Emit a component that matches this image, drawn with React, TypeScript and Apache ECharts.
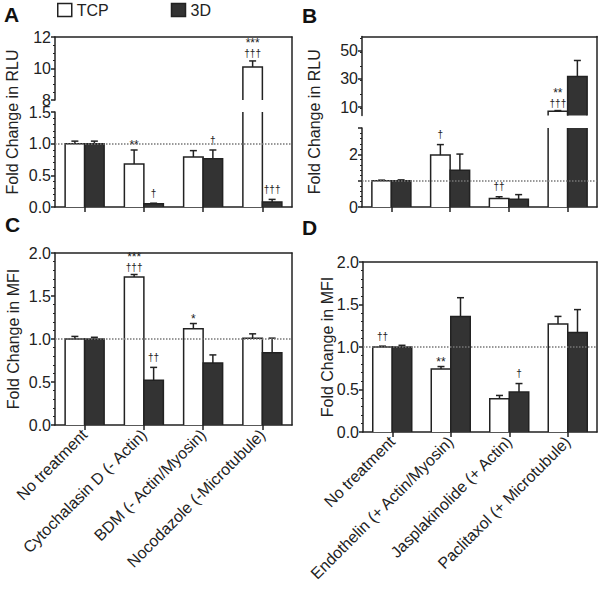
import React, { useEffect, useRef } from 'react';
import * as echarts from 'echarts';

// ---------- data ----------
const catsTop = ['No treatment', 'Cytochalasin D (- Actin)', 'BDM (- Actin/Myosin)', 'Nocodazole (-Microtubule)'];
const catsBottom = ['No treatment', 'Endothelin (+ Actin/Myosin)', 'Jasplakinolide (+ Actin)', 'Paclitaxol (+ Microtubule)'];
const seriesNames = ['TCP', '3D'];
const refLine = 1;

// Panel A (RLU)
const aTcp = [1.0, 0.68, 0.79, 10.1];
const aTcpErr = [0.04, 0.22, 0.1, 0.38];
const a3d = [1.0, 0.05, 0.76, 0.08];
const a3dErr = [0.04, 0.01, 0.14, 0.04];
const aTcpStars = ['', '**', '', '***'];
const aTcpDaggers = ['', '', '', '†††'];
const a3dStars = ['', '', '', ''];
const a3dDaggers = ['', '†', '†', '†††'];
const aTopTicks = [8, 10, 12];
const aLowTicks = [0, 0.5, 1.0, 1.5];

// Panel B (RLU)
const bTcp = [1.0, 1.97, 0.32, 7.0];
const bTcpErr = [0.02, 0.4, 0.07, 0.5];
const b3d = [1.0, 1.4, 0.29, 31.7];
const b3dErr = [0.03, 0.61, 0.18, 11.3];
const bTcpStars = ['', '', '', '**'];
const bTcpDaggers = ['', '†', '††', '†††'];
const b3dStars = ['', '', '', ''];
const b3dDaggers = ['', '', '', ''];
const bTopTicks = [10, 30, 50];
const bLowTicks = [0, 2];

// Panel C (MFI)
const cTcp = [1.0, 1.72, 1.12, 1.01];
const cTcpErr = [0.03, 0.03, 0.06, 0.05];
const c3d = [1.0, 0.52, 0.72, 0.84];
const c3dErr = [0.02, 0.15, 0.095, 0.17];
const cTcpStars = ['', '***', '*', ''];
const cTcpDaggers = ['', '†††', '', ''];
const c3dStars = ['', '', '', ''];
const c3dDaggers = ['', '††', '', ''];

// Panel D (MFI)
const dTcp = [1.0, 0.74, 0.39, 1.27];
const dTcpErr = [0.01, 0.03, 0.04, 0.09];
const d3d = [1.0, 1.36, 0.47, 1.17];
const d3dErr = [0.02, 0.22, 0.1, 0.27];
const dTcpStars = ['', '**', '', ''];
const dTcpDaggers = ['††', '', '', ''];
const d3dStars = ['', '', '', ''];
const d3dDaggers = ['', '', '†', ''];
const mfiTicks = [0, 0.5, 1.0, 1.5, 2.0];

// ---------- style ----------
const FONT = "'Liberation Sans', Arial, Helvetica, sans-serif";
const INK = '#222';
const DARK = '#333';
const BAR_W = 19.5;
const LW = 1.5;

type Seg = {
  top: number; height: number; min: number; max: number; interval: number;
  labels: number[]; ticks?: number[]; digits: number; minorSplit: number; isBottom: boolean;
};
type SeriesData = { vals: number[]; errs: number[]; stars: string[]; daggers: string[] };
type Panel = {
  left: number; width: number; frameTop: number; frameHeight: number;
  cats: string[]; showCats: boolean; name: string; nameGap: number;
  segs: Seg[]; series: SeriesData[];
};

function makeRender(sd: SeriesData, side: number, segMin: number, segMax: number) {
  return (params: any, api: any) => {
    const i = params.dataIndex;
    const v = sd.vals[i];
    const e = sd.errs[i];
    if (v <= segMin) return null;
    const cs = params.coordSys;
    const gTop = cs.y;
    const gBot = cs.y + cs.height;
    const center = api.coord([i, 0])[0];
    const xL = side === 0 ? center - BAR_W : center;
    const xR = xL + BAR_W;
    const xm = (xL + xR) / 2;
    const yV = api.coord([i, v])[1];
    const yZero = api.coord([i, 0])[1];
    const yTop = Math.max(yV, gTop);
    const yBase = Math.min(yZero, gBot);
    const children: any[] = [];
    children.push({
      type: 'rect',
      shape: { x: xL, y: yTop, width: BAR_W, height: yBase - yTop },
      style: { fill: side === 0 ? '#fff' : DARK },
    });
    if (v <= segMax) {
      children.push({
        type: 'polyline',
        shape: { points: [[xL, yBase], [xL, yTop], [xR, yTop], [xR, yBase]] },
        style: { stroke: INK, lineWidth: LW, fill: null },
      });
      const yE = api.coord([i, v + e])[1];
      children.push({ type: 'line', shape: { x1: xm, y1: yTop, x2: xm, y2: yE }, style: { stroke: INK, lineWidth: LW } });
      children.push({ type: 'line', shape: { x1: xm - 3.5, y1: yE, x2: xm + 3.5, y2: yE }, style: { stroke: INK, lineWidth: LW } });
      const st = sd.stars[i];
      const dg = sd.daggers[i];
      const base = { fontFamily: FONT, fill: INK, align: 'center' };
      if (st && dg) {
        children.push({
          type: 'text', x: xm, y: yE - 2,
          style: {
            ...base, verticalAlign: 'bottom',
            text: '{s|' + st + '}\n{d|' + dg + '}',
            rich: {
              s: { fontSize: 12, lineHeight: 11, fontFamily: FONT, fill: INK, align: 'center' },
              d: { fontSize: 10, lineHeight: 10, fontFamily: FONT, fill: INK, align: 'center' },
            },
          },
        });
      } else if (dg) {
        children.push({
          type: 'text', x: xm, y: yE - 10,
          style: { ...base, text: dg, fontSize: 10, verticalAlign: 'middle' },
        });
      } else if (st) {
        children.push({
          type: 'text', x: xm, y: yE - 5,
          style: { ...base, text: st, fontSize: 12, verticalAlign: 'middle' },
        });
      }
    } else {
      children.push({ type: 'line', shape: { x1: xL, y1: yBase, x2: xL, y2: yTop }, style: { stroke: INK, lineWidth: LW } });
      children.push({ type: 'line', shape: { x1: xR, y1: yBase, x2: xR, y2: yTop }, style: { stroke: INK, lineWidth: LW } });
    }
    return { type: 'group', children };
  };
}

const panels: Panel[] = [
  {
    left: 55, width: 237, frameTop: 37, frameHeight: 170, cats: catsTop, showCats: false,
    name: 'Fold Change in RLU', nameGap: 35,
    segs: [
      { top: 37, height: 63, min: 8, max: 12, interval: 2, labels: aTopTicks, digits: 0, minorSplit: 4, isBottom: false },
      { top: 112, height: 95, min: 0, max: 1.5, interval: 0.5, labels: aLowTicks, digits: 1, minorSplit: 5, isBottom: true },
    ],
    series: [
      { vals: aTcp, errs: aTcpErr, stars: aTcpStars, daggers: aTcpDaggers },
      { vals: a3d, errs: a3dErr, stars: a3dStars, daggers: a3dDaggers },
    ],
  },
  {
    left: 362, width: 235, frameTop: 36.5, frameHeight: 170.5, cats: catsTop, showCats: false,
    name: 'Fold Change in RLU', nameGap: 40,
    segs: [
      { top: 36.5, height: 79, min: 4, max: 60, interval: 10, labels: bTopTicks, ticks: bTopTicks, digits: 0, minorSplit: 2, isBottom: false },
      { top: 128, height: 79, min: 0, max: 3, interval: 1, labels: bLowTicks, digits: 0, minorSplit: 5, isBottom: true },
    ],
    series: [
      { vals: bTcp, errs: bTcpErr, stars: bTcpStars, daggers: bTcpDaggers },
      { vals: b3d, errs: b3dErr, stars: b3dStars, daggers: b3dDaggers },
    ],
  },
  {
    left: 55, width: 237, frameTop: 253, frameHeight: 172, cats: catsTop, showCats: true,
    name: 'Fold Change in MFI', nameGap: 34,
    segs: [
      { top: 253, height: 172, min: 0, max: 2, interval: 0.5, labels: mfiTicks, digits: 1, minorSplit: 5, isBottom: true },
    ],
    series: [
      { vals: cTcp, errs: cTcpErr, stars: cTcpStars, daggers: cTcpDaggers },
      { vals: c3d, errs: c3dErr, stars: c3dStars, daggers: c3dDaggers },
    ],
  },
  {
    left: 363, width: 234, frameTop: 262, frameHeight: 170, cats: catsBottom, showCats: true,
    name: 'Fold Change in MFI', nameGap: 28,
    segs: [
      { top: 262, height: 170, min: 0, max: 2, interval: 0.5, labels: mfiTicks, digits: 1, minorSplit: 5, isBottom: true },
    ],
    series: [
      { vals: dTcp, errs: dTcpErr, stars: dTcpStars, daggers: dTcpDaggers },
      { vals: d3d, errs: d3dErr, stars: d3dStars, daggers: d3dDaggers },
    ],
  },
];

function buildOption() {
  const grid: any[] = [];
  const xAxis: any[] = [];
  const yAxis: any[] = [];
  const series: any[] = [];
  const axisLineStyle = { color: INK, width: LW };

  panels.forEach((p) => {
    // frame grid
    const fg = grid.length;
    grid.push({ left: p.left, top: p.frameTop, width: p.width, height: p.frameHeight });
    xAxis.push({
      gridIndex: fg, type: 'category', data: p.cats, position: 'top',
      axisLine: { show: true, onZero: false, lineStyle: axisLineStyle },
      axisTick: { show: false }, axisLabel: { show: false },
      splitLine: { show: true, showMinLine: false, showMaxLine: false, lineStyle: { color: INK, width: LW } },
    });
    yAxis.push({
      gridIndex: fg, type: 'value', position: 'right', min: 0, max: 1,
      axisLine: { show: true, onZero: false, lineStyle: axisLineStyle },
      axisTick: { show: false }, axisLabel: { show: false }, splitLine: { show: false },
    });
    yAxis.push({
      gridIndex: fg, type: 'value', position: 'left', min: 0, max: 1,
      axisLine: { show: false }, axisTick: { show: false }, axisLabel: { show: false }, splitLine: { show: false },
      name: p.name, nameLocation: 'middle', nameGap: p.nameGap,
      nameTextStyle: { fontSize: 16, fontFamily: FONT, color: INK },
    });

    p.segs.forEach((s) => {
      const gi = grid.length;
      grid.push({ left: p.left, top: s.top, width: p.width, height: s.height });
      const xi = xAxis.length;
      xAxis.push({
        gridIndex: gi, type: 'category', data: p.cats, position: 'bottom', show: s.isBottom,
        axisLine: { show: true, onZero: false, lineStyle: axisLineStyle },
        axisTick: { show: true, alignWithLabel: true, length: 5, lineStyle: axisLineStyle },
        axisLabel: {
          show: p.showCats, rotate: 45, interval: 0, margin: 7,
          fontSize: 16, fontFamily: FONT, color: INK,
        },
        splitLine: { show: false },
      });
      const yi = yAxis.length;
      const tick: any = { show: true, length: 4, lineStyle: axisLineStyle };
      if (s.ticks) tick.customValues = s.ticks;
      yAxis.push({
        gridIndex: gi, type: 'value', position: 'left', min: s.min, max: s.max, interval: s.interval,
        axisLine: { show: true, onZero: false, lineStyle: axisLineStyle },
        axisTick: tick,
        minorTick: { show: true, splitNumber: s.minorSplit, length: 2, lineStyle: { color: INK, width: 1 } },
        axisLabel: {
          customValues: s.labels, margin: 4, fontSize: 16, fontFamily: FONT, color: INK,
          formatter: (v: number) => v.toFixed(s.digits),
        },
        splitLine: { show: false },
      });
      if (s.min <= refLine && refLine <= s.max) {
        series.push({
          type: 'line', xAxisIndex: xi, yAxisIndex: yi, data: [], z: 1, silent: true,
          markLine: {
            silent: true, symbol: ['none', 'none'], label: { show: false },
            lineStyle: { type: 'dotted', color: '#777', width: 1.5 },
            data: [{ yAxis: refLine }],
          },
        });
      }
      p.series.forEach((sd, side) => {
        series.push({
          type: 'custom', name: seriesNames[side], xAxisIndex: xi, yAxisIndex: yi, z: 3,
          itemStyle: { color: side === 0 ? '#fff' : DARK, borderColor: INK },
          data: sd.vals.map((v, i) => [i, v]),
          encode: { x: 0, y: 1 },
          renderItem: makeRender(sd, side, s.min, s.max),
        });
      });
    });
  });

  return {
    animation: false,
    backgroundColor: '#fff',
    textStyle: { fontFamily: FONT },
    title: [
      { text: 'A', left: 4, top: 4 },
      { text: 'B', left: 302, top: 5 },
      { text: 'C', left: 5, top: 214 },
      { text: 'D', left: 302, top: 217 },
    ].map((t) => ({ ...t, padding: 0, textStyle: { fontSize: 21, fontWeight: 'bold', fontFamily: FONT, color: '#111' } })),
    legend: {
      left: 57, top: 2, padding: 0, itemWidth: 14, itemHeight: 13, itemGap: 62, icon: 'rect', selectedMode: false,
      textStyle: { fontSize: 16, fontFamily: FONT, color: INK },
      data: [
        { name: seriesNames[0], itemStyle: { color: '#fff', borderColor: INK, borderWidth: 1.5 } },
        { name: seriesNames[1], itemStyle: { color: DARK, borderColor: INK, borderWidth: 1.5 } },
      ],
    },
    grid, xAxis, yAxis, series,
  };
}

export default function App() {
  const ref = useRef<HTMLDivElement>(null);
  useEffect(() => {
    if (!ref.current) return;
    const chart = echarts.init(ref.current, undefined, { renderer: 'svg' });
    chart.setOption(buildOption() as any);
    return () => chart.dispose();
  }, []);
  return <div ref={ref} style={{ position: 'fixed', left: 0, top: 0, width: 600, height: 590, background: '#fff' }} />;
}
